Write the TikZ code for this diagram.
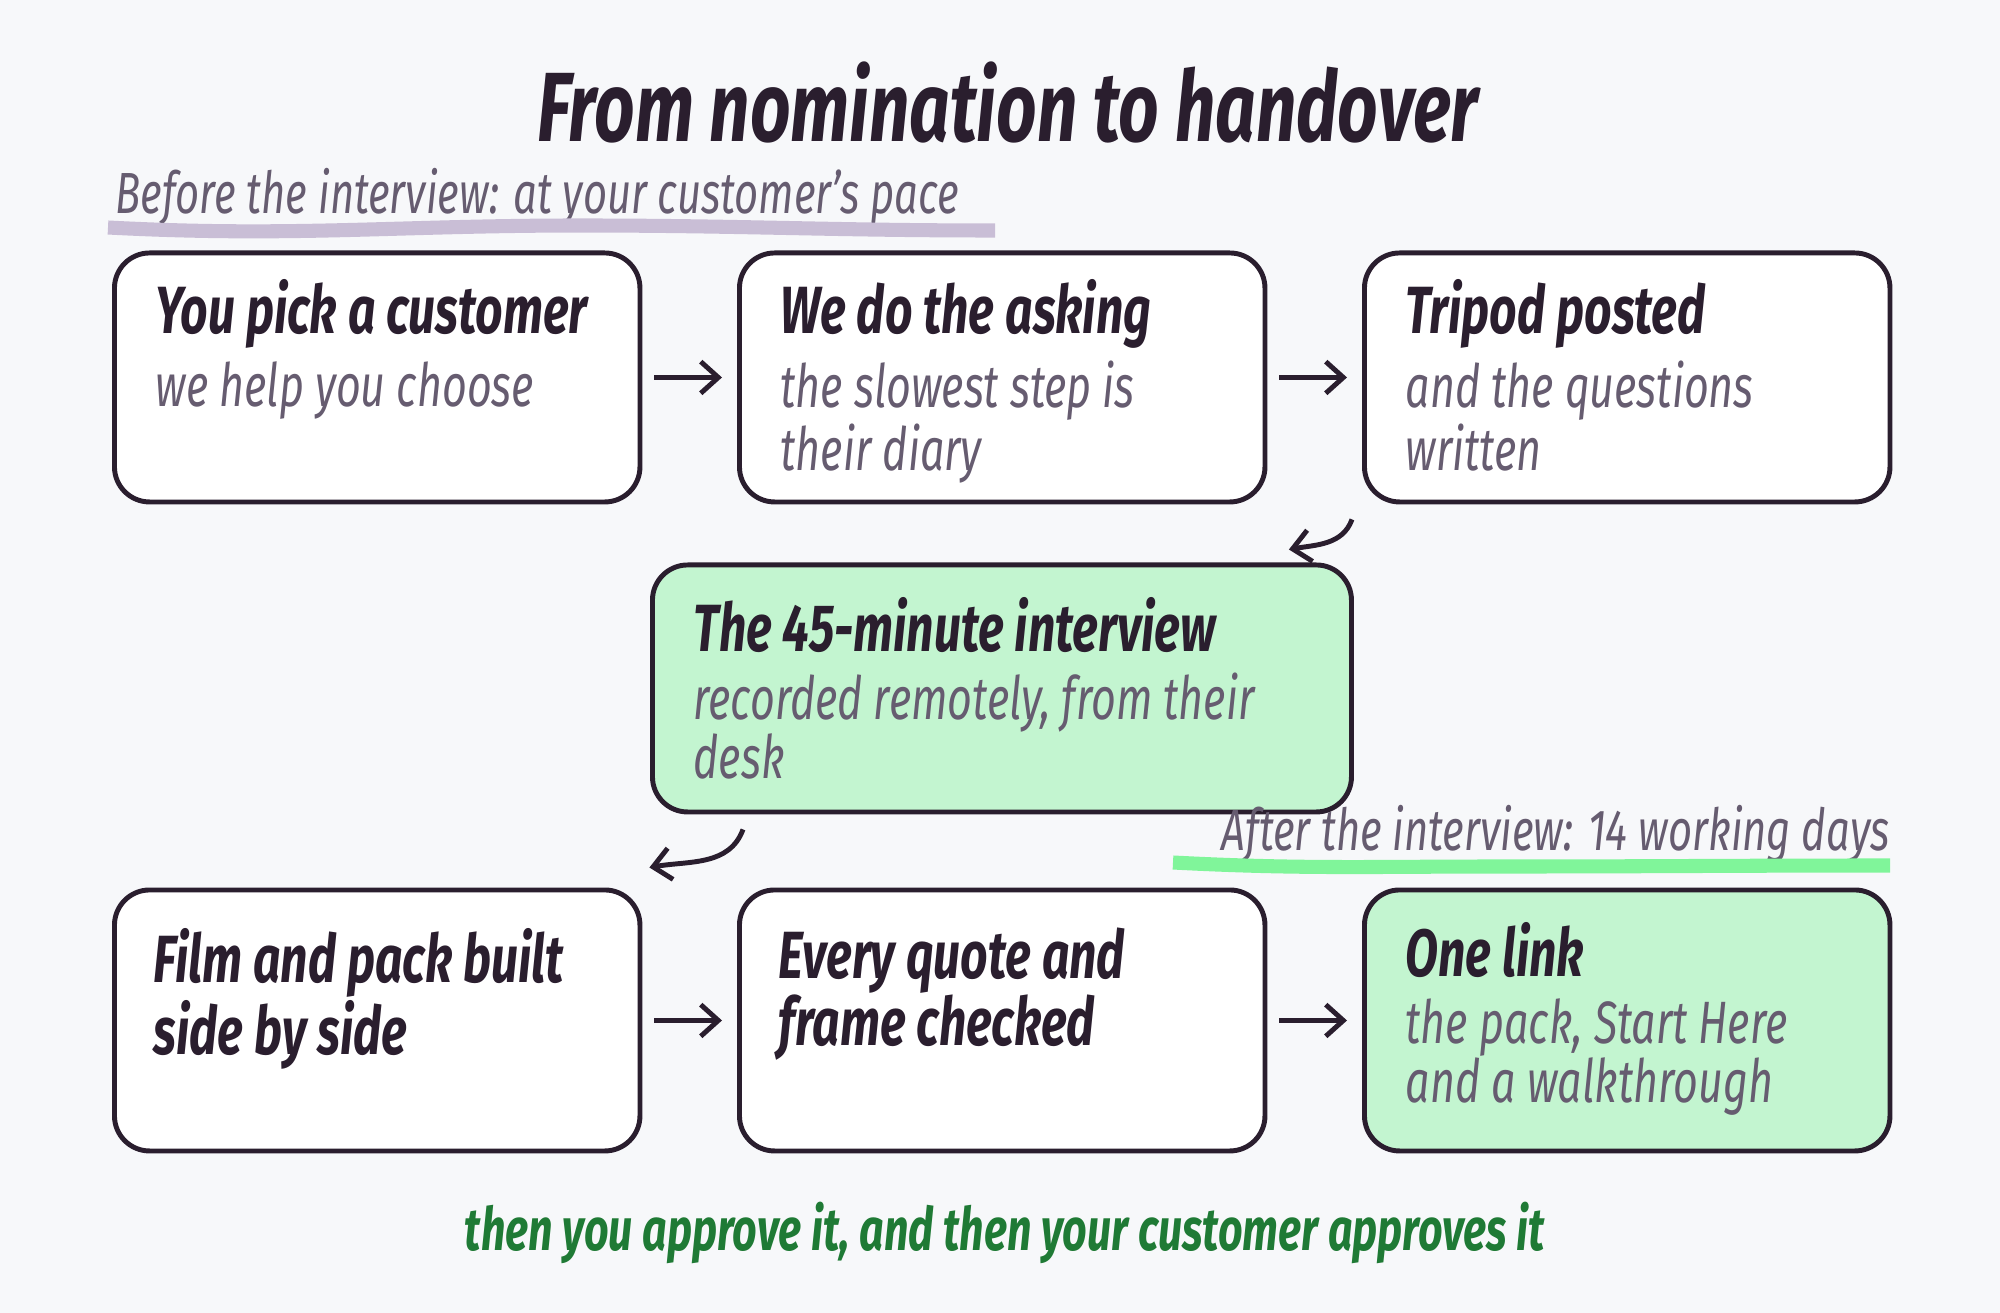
\documentclass[tikz,border=0pt]{standalone}
\usepackage{fontspec}
\setmainfont{Fira Sans}[FakeStretch=0.72]
\usetikzlibrary{arrows.meta,positioning}
\definecolor{paper}{HTML}{F7F8FA}
\definecolor{ink}{HTML}{2A1E2E}
\definecolor{muted}{HTML}{665C70}
\definecolor{mint}{HTML}{C3F5D0}
\definecolor{lilac}{HTML}{C9BED6}
\definecolor{lime}{HTML}{80F59A}
\definecolor{forest}{HTML}{1F7A35}
\tikzset{
  box/.style={rectangle, draw=ink, line width=1.4pt, rounded corners=10pt, fill=white, minimum width=5.255cm, minimum height=2.49cm, anchor=north west},
  head/.style={anchor=west, inner sep=0pt, font=\fontsize{19}{19}\selectfont\itshape\bfseries, text=ink, align=left},
  sub/.style={anchor=north west, inner sep=0pt, font=\fontsize{17}{16.8}\selectfont\itshape, text=muted, align=left},
  flow/.style={-{Straight Barb[length=5pt,width=9pt]}, line width=1.4pt, draw=ink, shorten <=0.12cm, shorten >=0.15cm},
}
\begin{document}
\begin{tikzpicture}
  \fill[paper] (0,0) rectangle (20,13.125);
  \useasboundingbox (0,0) rectangle (20,13.125);
  % Header
  \node (title) at (10.08,12.1) {\fontsize{28}{30}\selectfont\itshape\bfseries\color{ink}From nomination to handover};
  \node (pre) [anchor=west, inner sep=0pt, font=\fontsize{16.5}{18}\selectfont\itshape, text=muted] at (1.15,11.15) {Before the interview: at your customer's pace};
  \draw[lilac, line width=4pt] (1.08,10.85) to[out=-3, in=180] (5.8,10.87) to[out=0, in=180] (9.95,10.82);
  % Nodes
  \node (pick) [box] at (1.12,10.62) {};
  \node (ask) [box] at (7.37,10.62) {};
  \node (tripod) [box] at (13.62,10.62) {};
  \node (interview) [box, fill=mint, minimum width=6.99cm, minimum height=2.47cm] at (6.50,7.50) {};
  \node (film) [box, minimum height=2.61cm] at (1.12,4.25) {};
  \node (check) [box, minimum height=2.61cm] at (7.37,4.25) {};
  \node (link) [box, fill=mint, minimum height=2.61cm] at (13.62,4.25) {};
  % Texts
  \node (pickH) [head] at ([shift={(0.43,-0.63)}]pick.north west) {You pick a customer};
  \node (pickS) [sub] at ([shift={(0.43,-1.1)}]pick.north west) {we help you choose};
  \node (askH) [head] at ([shift={(0.43,-0.63)}]ask.north west) {We do the asking};
  \node (askS) [sub] at ([shift={(0.43,-1.1)}]ask.north west) {the slowest step is\\their diary};
  \node (tripodH) [head] at ([shift={(0.43,-0.63)}]tripod.north west) {Tripod posted};
  \node (tripodS) [sub] at ([shift={(0.43,-1.1)}]tripod.north west) {and the questions\\written};
  \node (interviewH) [head] at ([shift={(0.43,-0.63)}]interview.north west) {The 45-minute interview};
  \node (interviewS) [sub] at ([shift={(0.43,-1.1)}]interview.north west) {recorded remotely, from their\\desk};
  \node (filmH) [head, anchor=north west, font=\fontsize{19}{19}\selectfont\itshape\bfseries] at ([shift={(0.41,-0.4)}]film.north west) {Film and pack built\\side by side};
  \node (checkH) [head, anchor=north west, font=\fontsize{19}{19}\selectfont\itshape\bfseries] at ([shift={(0.41,-0.4)}]check.north west) {Every quote and\\frame checked};
  \node (linkH) [head] at ([shift={(0.43,-0.63)}]link.north west) {One link};
  \node (linkS) [sub] at ([shift={(0.43,-1.1)}]link.north west) {the pack, Start Here\\and a walkthrough};
  \node (post) [anchor=east, inner sep=0pt, font=\fontsize{16.5}{18}\selectfont\itshape, text=muted] at (18.9,4.78) {After the interview: 14 working days};
  \draw[lime, line width=4pt] (11.73,4.5) to[out=-3, in=180] (15.0,4.46) to[out=0, in=180] (18.9,4.47);
  % Arrow
  \draw[flow] (pick) -- (ask);
  \draw[flow] (ask) -- (tripod);
  \draw[flow] (film) -- (check);
  \draw[flow] (check) -- (link);
  \draw[flow, shorten <=0pt, shorten >=0pt] ([shift={(-0.1,-0.15)}]tripod.south west) to[out=-110, in=10] ([shift={(-0.65,0.13)}]interview.north east);
  \draw[flow, shorten <=0pt, shorten >=0pt] ([shift={(0.93,-0.15)}]interview.south west) to[out=-110, in=10] ([shift={(0.07,0.2)}]film.north east);
  % Footer
  \node (approve) at (10.05,0.8) {\fontsize{17}{20}\selectfont\itshape\bfseries\color{forest}then you approve it, and then your customer approves it};
\end{tikzpicture}
\end{document}
